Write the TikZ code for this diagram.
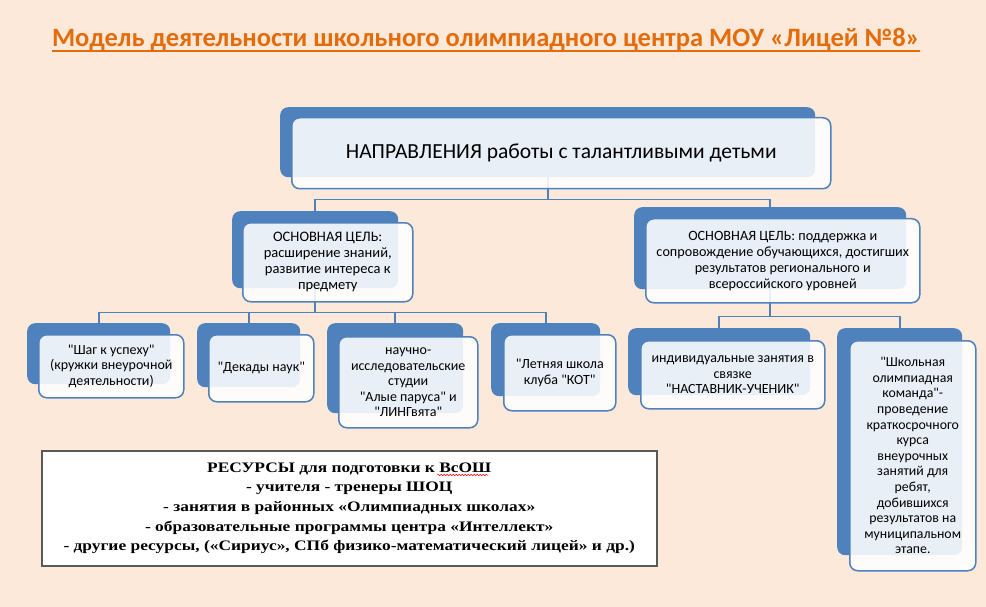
\documentclass[tikz,border=0pt]{standalone}
\usepackage{fontspec}
\setmainfont{Carlito}[Ligatures=TeXOff]
\newfontfamily\resfont[FakeStretch=1.2]{Liberation Serif}
\usetikzlibrary{positioning,shadows,decorations.pathmorphing}

\definecolor{peach}{HTML}{FDE9D9}
\definecolor{accent}{HTML}{4F81BD}
\definecolor{titleorange}{HTML}{E46C0A}
\definecolor{frame}{HTML}{595959}

\tikzset{
	backbox/.style={anchor=north west, fill=accent, rounded corners=8pt, inner sep=0pt},
	frontbox/.style={anchor=north west, draw=accent, line width=1.5pt, fill=white, fill opacity=0.88, text opacity=1, text=black, rounded corners=8pt, align=center, inner sep=2pt},
	branch/.style={draw=accent, line width=1.6pt},
}

\begin{document}
\begin{tikzpicture}[x=1pt, y=-1pt]
	
	\fill[peach] (0,0) rectangle (986,607);
	
	\node[font=\bfseries\fontsize{26.5}{30}\selectfont, text=titleorange, inner sep=0pt, anchor=base](title) at (486,47){Модель деятельности школьного олимпиадного центра МОУ «Лицей №8»};
	\draw[titleorange, line width=1.6pt] ([yshift=-4pt]title.base west) -- ([yshift=-4pt]title.base east);
	
	\node[backbox, minimum width=535, minimum height=70](dir-b) at (280,107){};
	\node[backbox, minimum width=166, minimum height=77](g1-b) at (232,211){};
	\node[backbox, minimum width=272, minimum height=82](g2-b) at (634,207){};
	\node[backbox, minimum width=143, minimum height=61](c1-b) at (27,323){};
	\node[backbox, minimum width=103, minimum height=64](c2-b) at (197,323){};
	\node[backbox, minimum width=136, minimum height=90](c3-b) at (327,323){};
	\node[backbox, minimum width=109, minimum height=73](c4-b) at (491,323){};
	\node[backbox, minimum width=182, minimum height=67](c5-b) at (628,328){};
	\node[backbox, minimum width=125, minimum height=227](c6-b) at (837,328){};
	
	\draw[branch] (dir-b.south) -- ++(0,22) -| (g1-b.north);
	\draw[branch] (dir-b.south) -- ++(0,22) -| (g2-b.north);
	\draw[branch] (g1-b.south) -- ++(0,24) -| (c1-b.north);
	\draw[branch] (g1-b.south) -- ++(0,24) -| (c2-b.north);
	\draw[branch] (g1-b.south) -- ++(0,24) -| (c3-b.north);
	\draw[branch] (g1-b.south) -- ++(0,24) -| (c4-b.north);
	\draw[branch] (g2-b.south) -- ++(0,27) -| (c5-b.north);
	\draw[branch] (g2-b.south) -- ++(0,27) -| (c6-b.north);
	
	\node[frontbox, minimum width=539, minimum height=71, font=\fontsize{21.5}{25}\selectfont](dir) at (291,117){НАПРАВЛЕНИЯ работы с талантливыми детьми};
	\node[frontbox, minimum width=170, minimum height=79, font=\fontsize{14.5}{16}\selectfont](g1) at (242,222){ОСНОВНАЯ ЦЕЛЬ:\\ расширение знаний,\\ развитие интереса к\\ предмету};
	\node[frontbox, minimum width=274, minimum height=84, font=\fontsize{14.2}{16}\selectfont](g2) at (645,218){ОСНОВНАЯ ЦЕЛЬ: поддержка и\\ сопровождение обучающихся, достигших\\ результатов регионального и\\ всероссийского уровней};
	\node[frontbox, minimum width=145, minimum height=63, font=\fontsize{14}{15.5}\selectfont](c1) at (38,334){"Шаг к успеху"\\ (кружки внеурочной\\ деятельности)};
	\node[frontbox, minimum width=105, minimum height=67, font=\fontsize{14}{15.5}\selectfont](c2) at (208,334){"Декады наук"};
	\node[frontbox, minimum width=139, minimum height=91, font=\fontsize{14}{15.5}\selectfont](c3) at (338,336){научно-\\ исследовательские\\ студии\\ "Алые паруса" и\\ "ЛИНГвята"};
	\node[frontbox, minimum width=112, minimum height=76, font=\fontsize{14}{15.5}\selectfont](c4) at (503,334){"Летняя школа\\ клуба "КОТ"};
	\node[frontbox, minimum width=184, minimum height=68, font=\fontsize{14}{15.5}\selectfont](c5) at (640,340){индивидуальные занятия в\\ связке\\ "НАСТАВНИК-УЧЕНИК"};
	\node[frontbox, minimum width=126, minimum height=230, font=\fontsize{13.8}{15.6}\selectfont](c6) at (849,340){"Школьная\\ олимпиадная\\ команда"-\\ проведение\\ краткосрочного\\ курса\\ внеурочных\\ занятий для\\ ребят,\\ добившихся\\ результатов на\\ муниципальном\\ этапе.};
	
	\node[anchor=north west, draw=frame, line width=1.5pt, fill=white, minimum width=615, minimum height=115, align=center, font=\resfont\bfseries\fontsize{14.5}{19.7}\selectfont, drop shadow={shadow xshift=1pt, shadow yshift=-1pt, opacity=0.4}](res) at (41,450){РЕСУРСЫ для подготовки к ВсОШ\\ - учителя - тренеры ШОЦ\\ - занятия в районных «Олимпиадных школах»\\ - образовательные программы центра «Интеллект»\\ - другие ресурсы, («Сириус», СПб физико-математический лицей» и др.)};
	\draw[red, line width=0.5pt, decorate, decoration={snake, amplitude=0.8pt, segment length=3pt}] ([xshift=88pt,yshift=-25pt]res.north) -- ([xshift=139pt,yshift=-25pt]res.north);
	
\end{tikzpicture}
\end{document}
